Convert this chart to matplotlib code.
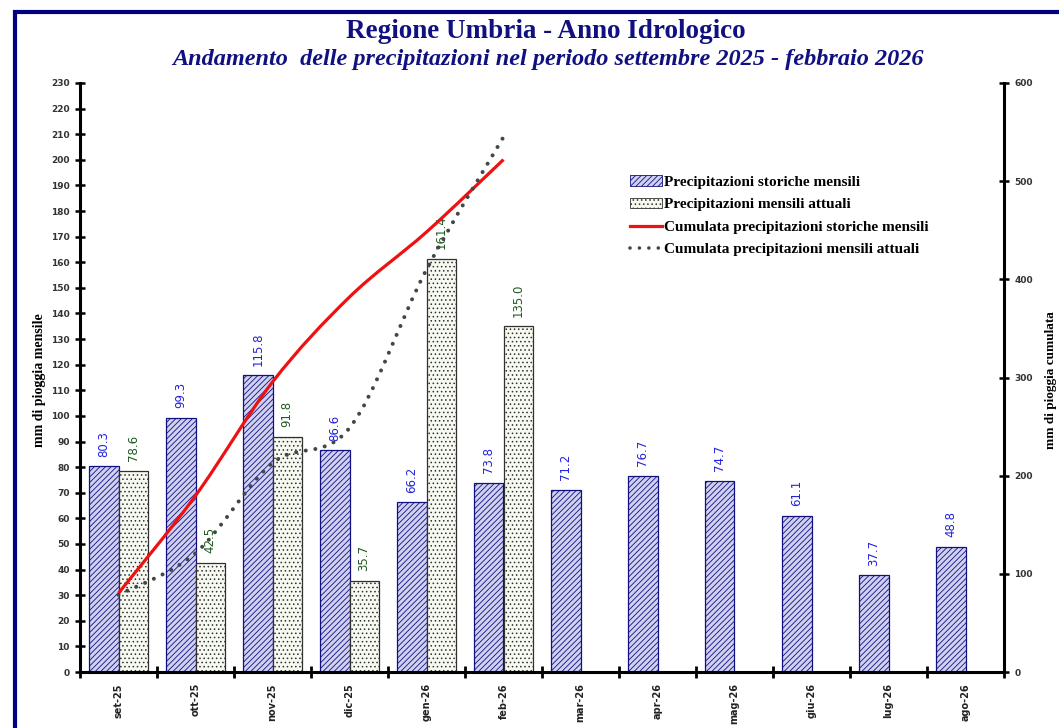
import numpy as np
import matplotlib
matplotlib.use("Agg")
import matplotlib.pyplot as plt
from matplotlib.path import Path
from matplotlib.patches import PathPatch, Patch, Rectangle
from matplotlib.lines import Line2D

# Data
months = ["set-25", "ott-25", "nov-25", "dic-25", "gen-26", "feb-26",
          "mar-26", "apr-26", "mag-26", "giu-26", "lug-26", "ago-26"]
storiche = [80.3, 99.3, 115.8, 86.6, 66.2, 73.8, 71.2, 76.7, 74.7, 61.1, 37.7, 48.8]
attuali = [78.6, 42.5, 91.8, 35.7, 161.4, 135.0]

cum_storiche = np.cumsum(storiche[:len(attuali)])
cum_attuali = np.cumsum(attuali)

NAVY = "#101080"


def smooth_path(xs, ys):
    """Excel-like smoothed line as cubic bezier through the points."""
    pts = np.column_stack([xs, ys]).astype(float)
    n = len(pts)
    verts = [pts[0]]
    codes = [Path.MOVETO]
    for i in range(n - 1):
        p0 = pts[i - 1] if i > 0 else pts[i]
        p1 = pts[i]
        p2 = pts[i + 1]
        p3 = pts[i + 2] if i + 2 < n else pts[i + 1]
        c1 = p1 + (p2 - p0) / 6.0
        c2 = p2 - (p3 - p1) / 6.0
        verts += [c1, c2, p2]
        codes += [Path.CURVE4] * 3
    return Path(verts, codes)


plt.rcParams['hatch.linewidth'] = 0.6

fig = plt.figure(figsize=(10.59, 7.28), dpi=100)
ax = fig.add_axes([80 / 1059, 56 / 728, 924 / 1059, 589 / 728])
ax2 = ax.twinx()

x = np.arange(len(months))
w = 0.38
ax.bar(x - w / 2, storiche, w, facecolor="#d0d0f0", edgecolor=NAVY,
       hatch="//////", linewidth=0.9, zorder=2)
ax.bar(x[:len(attuali)] + w / 2, attuali, w, facecolor="#f6f9f0",
       edgecolor="#303030", hatch="....", linewidth=0.9, zorder=2)

for xi, v in zip(x, storiche):
    ax.annotate(f"{v:.1f}", (xi - w / 2, v), xytext=(0, 7), textcoords="offset points",
                rotation=90, ha="center", va="bottom", color="#2222dd", fontsize=8.5)
for xi, v in zip(x, attuali):
    ax.annotate(f"{v:.1f}", (xi + w / 2, v), xytext=(0, 7), textcoords="offset points",
                rotation=90, ha="center", va="bottom", color="#1f5a1f", fontsize=8.5,
                zorder=6)

# cumulated lines on the secondary axis
xc = x[:len(attuali)]
red = PathPatch(smooth_path(xc, cum_storiche), facecolor="none", edgecolor="#ee1111",
                linewidth=2.3, zorder=4)
ax2.add_patch(red)
dots = PathPatch(smooth_path(xc, cum_attuali), facecolor="none", edgecolor="#404848",
                 linewidth=2.9, linestyle=(0, (0.01, 2.4)), capstyle="round", zorder=5)
ax2.add_patch(dots)

ax.set_xlim(-0.5, len(months) - 0.5)
ax.set_ylim(0, 230)
ax2.set_ylim(0, 600)
ax.set_yticks(np.arange(0, 231, 10))
ax2.set_yticks(np.arange(0, 601, 100))

ax.set_xticks(np.arange(len(months) + 1) - 0.5)
ax.set_xticklabels([])
ax.set_xticks(x, minor=True)
ax.set_xticklabels(months, minor=True, rotation=90, fontsize=7, fontweight="bold",
                   color="#222222")
ax.tick_params(axis="x", which="minor", length=0, pad=8)
ax.tick_params(axis="x", which="major", direction="inout", length=8, width=2)
ax.tick_params(axis="y", direction="inout", length=7, width=1.8, labelsize=6.5,
               labelcolor="#333333", pad=4)
ax2.tick_params(axis="y", direction="inout", length=7, width=1.8, labelsize=6.5,
                labelcolor="#333333", pad=4)
for lab in ax.get_yticklabels() + ax2.get_yticklabels():
    lab.set_fontweight("bold")

for a in (ax, ax2):
    a.spines["top"].set_visible(False)
    a.spines["left"].set_linewidth(2.2)
    a.spines["right"].set_linewidth(2.2)
    a.spines["bottom"].set_linewidth(2.2)
ax2.spines["left"].set_visible(False)
ax.spines["right"].set_visible(False)
ax2.spines["bottom"].set_visible(False)

fig.text(40 / 1059, 0.5 + (364 - 380) / 728, "mm di pioggia mensile", rotation=90,
         ha="center", va="center", family="Liberation Serif", fontweight="bold",
         fontsize=10)
fig.text(1051 / 1059, 0.5 + (364 - 380) / 728, "mm di pioggia cumulata", rotation=90,
         ha="center", va="center", family="Liberation Serif", fontweight="bold",
         fontsize=9.5)

fig.text(0.515, 1 - 32 / 728, "Regione Umbria - Anno Idrologico", ha="center",
         va="center", family="Liberation Serif", fontweight="bold", fontsize=19.5,
         color=NAVY)
fig.text(548 / 1059, 1 - 60 / 728,
         "Andamento  delle precipitazioni nel periodo settembre 2025 - febbraio 2026",
         ha="center", va="center", family="Liberation Serif", fontweight="bold",
         style="italic", fontsize=17.5, color=NAVY)

handles = [
    Patch(facecolor="#d0d0f0", edgecolor=NAVY, hatch="//////", linewidth=0.6),
    Patch(facecolor="#f6f9f0", edgecolor="#303030", hatch="....", linewidth=0.6),
    Line2D([], [], color="#ee1111", linewidth=2.3),
    Line2D([], [], color="#404848", linewidth=2.6, linestyle=(0, (0.01, 2.6)),
           dash_capstyle="round"),
]
labels = ["Precipitazioni storiche mensili", "Precipitazioni mensili attuali",
          "Cumulata precipitazioni storiche mensili",
          "Cumulata precipitazioni mensili attuali"]
fig.legend(handles, labels, loc="upper left", bbox_to_anchor=(624 / 1059, 1 - 169 / 728),
           frameon=False, prop={"family": "Liberation Serif", "weight": "bold", "size": 11},
           handlelength=2.1, handleheight=0.7, handletextpad=0.15, labelspacing=0.58,
           borderaxespad=0)

fig.patches.append(Rectangle((15 / 1059, -0.2), 1.2, 1.2 - 12 / 728, transform=fig.transFigure,
                             facecolor="none", edgecolor="#000080", linewidth=3,
                             zorder=0))

fig.savefig("out.png", dpi=100)
